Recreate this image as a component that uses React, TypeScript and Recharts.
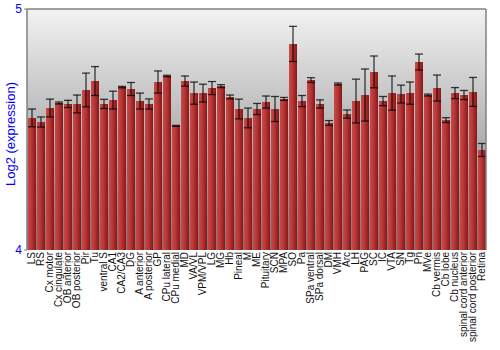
import { BarChart, Bar, XAxis, YAxis, ErrorBar, ReferenceArea, ReferenceLine } from "recharts";

const regions = [
  "LS", "RS", "Cx motor", "Cx cingulate", "OB anterior", "OB posterior", "Pir", "Tu",
  "ventral S", "CA1", "CA2/CA3", "DG", "A anterior", "A posterior", "GP", "CPu lateral",
  "CPu medial", "MD", "VA/VL", "VPM/VPL", "LG", "MG", "Hb", "Pineal", "M", "ME",
  "Pituitary", "SCN", "MPA", "SO", "Pa", "SPa ventral", "SPa dorsal", "DM", "VMH", "Arc",
  "LH", "PAG", "SC", "IC", "VTA", "SN", "Tg", "Pn", "MVe", "Cb vermis", "Cb lobe",
  "Cb nucleus", "spinal cord anterior", "spinal cord posterior", "Retina",
];

const expression = [
  4.548, 4.531, 4.589, 4.61, 4.606, 4.606, 4.664, 4.701,
  4.606, 4.622, 4.676, 4.668, 4.618, 4.606, 4.697, 4.722,
  4.515, 4.701, 4.651, 4.651, 4.672, 4.68, 4.635, 4.585, 4.548, 4.585,
  4.614, 4.585, 4.627, 4.855, 4.618, 4.705, 4.606, 4.527, 4.689, 4.564,
  4.618, 4.643, 4.739, 4.618, 4.651, 4.647, 4.651, 4.78, 4.643, 4.672, 4.539,
  4.651, 4.643, 4.656, 4.415,
];

const stdErr = [
  0.037, 0.021, 0.037, 0.004, 0.015, 0.037, 0.07, 0.06,
  0.019, 0.037, 0.003, 0.027, 0.033, 0.021, 0.046, 0.003,
  0.002, 0.021, 0.046, 0.037, 0.027, 0.006, 0.008, 0.041, 0.041, 0.023,
  0.025, 0.052, 0.006, 0.073, 0.023, 0.01, 0.017, 0.01, 0.004, 0.017,
  0.091, 0.108, 0.066, 0.019, 0.071, 0.037, 0.046, 0.033, 0.004, 0.054, 0.01,
  0.023, 0.019, 0.06, 0.027,
];

const yTicks = [4, 5];

const rows = regions.map((name, i) => ({ name, value: expression[i], err: stdErr[i] }));

const RegionTick = (props: any) => {
  const { x, y, payload } = props;
  return (
    <text
      x={x}
      y={y}
      transform={`rotate(-90, ${x}, ${y})`}
      textAnchor="end"
      dominantBaseline="central"
      fontSize={10}
      fill="#111"
    >
      {payload.value}
    </text>
  );
};

const YLabel = () => (
  <text
    x={10}
    y={134}
    transform="rotate(-90, 10, 134)"
    textAnchor="middle"
    dominantBaseline="central"
    fontSize={13}
    fill="#0000ff"
  >
    Log2 (expression)
  </text>
);

export default function App() {
  return (
    <div style={{ position: "absolute", left: 0, top: 0, fontFamily: "'Liberation Sans', Arial, sans-serif" }}>
      <BarChart width={500} height={350} data={rows} margin={{ top: 9, right: 0, bottom: 0, left: 0 }} barSize={8}>
        <defs>
          <linearGradient id="bgGrad" x1="0" y1="0" x2="0" y2="1">
            <stop offset="0%" stopColor="#f2f2f2" />
            <stop offset="100%" stopColor="#787878" />
          </linearGradient>
          <linearGradient id="barGrad" x1="0" y1="0" x2="1" y2="0">
            <stop offset="0%" stopColor="#c84a4a" />
            <stop offset="45%" stopColor="#b83535" />
            <stop offset="100%" stopColor="#861818" />
          </linearGradient>
        </defs>
        <ReferenceArea yAxisId="left" y1={4} y2={5} fill="url(#bgGrad)" fillOpacity={1} stroke="none" />
        <ReferenceLine yAxisId="left" y={5} stroke="#808080" strokeWidth={1.5} />
        <XAxis
          dataKey="name"
          interval={0}
          height={100}
          tickLine={false}
          axisLine={false}
          tickSize={0}
          tickMargin={2}
          tick={<RegionTick />}
        />
        <YAxis
          yAxisId="left"
          domain={[4, 5]}
          ticks={yTicks}
          width={27}
          tickSize={3}
          tickMargin={2}
          axisLine={{ stroke: "#808080", strokeWidth: 1.5 }}
          tickLine={{ stroke: "#808080" }}
          tick={{ fill: "#0000ff", fontSize: 12 }}
          label={<YLabel />}
        />
        <YAxis
          yAxisId="right"
          orientation="right"
          domain={[4, 5]}
          ticks={yTicks}
          width={14}
          tickSize={3}
          tickMargin={2}
          axisLine={{ stroke: "#808080", strokeWidth: 1.5 }}
          tickLine={{ stroke: "#808080" }}
          tick={{ fill: "#0000ff", fontSize: 12 }}
        />
        <Bar yAxisId="left" dataKey="value" fill="url(#barGrad)" isAnimationActive={false}>
          <ErrorBar dataKey="err" width={4} stroke="#000" strokeOpacity={0.75} strokeWidth={1.3} />
        </Bar>
      </BarChart>
    </div>
  );
}
